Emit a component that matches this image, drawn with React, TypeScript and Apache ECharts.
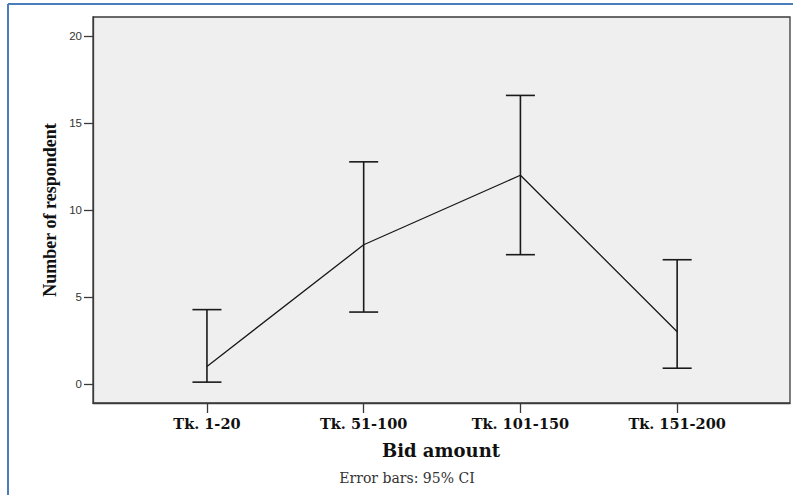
import React, { useEffect, useRef } from "react";
import * as echarts from "echarts";

const categories = ["Tk. 1-20", "Tk. 51-100", "Tk. 101-150", "Tk. 151-200"];
const means = [1, 8, 12, 3];
const ciLower = [0.1, 4.13, 7.43, 0.9];
const ciUpper = [4.27, 12.77, 16.59, 7.14];
const yTicks = [0, 5, 10, 15, 20];

export default function App() {
  const ref = useRef<HTMLDivElement>(null);
  useEffect(() => {
    const chart = echarts.init(ref.current!, null, { renderer: "svg" });
    const idx = categories.map((_, i) => i);
    chart.setOption({
      animation: false,
      backgroundColor: "#ffffff",
      grid: {
        left: 93,
        top: 17,
        right: 3,
        bottom: 92,
        show: true,
        backgroundColor: "#efefef",
        borderColor: "#3a3a3a",
        borderWidth: 1.3,
      },
      xAxis: {
        type: "value",
        min: -0.727,
        max: 3.72,
        axisLine: { show: true, onZero: false, lineStyle: { color: "#3a3a3a", width: 1.3 } },
        splitLine: { show: false },
        axisTick: {
          show: true,
          length: 10,
          customValues: idx,
          lineStyle: { color: "#3a3a3a", width: 1.3 },
        },
        axisLabel: {
          customValues: idx,
          margin: 13,
          formatter: (v: number) => categories[Math.round(v)] ?? "",
          fontFamily: "DejaVu Serif",
          fontWeight: "bold",
          fontSize: 14.5,
          color: "#111",
        },
      },
      yAxis: {
        type: "value",
        min: -1.1,
        max: 21.1,
        axisLine: { show: true, onZero: false, lineStyle: { color: "#3a3a3a", width: 1.3 } },
        splitLine: { show: false },
        axisTick: {
          show: true,
          length: 9,
          customValues: yTicks,
          lineStyle: { color: "#3a3a3a", width: 1.3 },
        },
        axisLabel: {
          customValues: yTicks,
          margin: 11,
          fontFamily: "Liberation Sans",
          fontSize: 11.5,
          color: "#333",
        },
      },
      series: [
        {
          type: "line",
          data: means.map((m, i) => [i, m]),
          symbol: "none",
          lineStyle: { color: "#1a1a1a", width: 1.3 },
          z: 3,
        },
        {
          type: "custom",
          data: idx.map((i) => [i, ciLower[i], ciUpper[i]]),
          renderItem: (params: any, api: any) => {
            const x = api.value(0);
            const lo = api.coord([x, api.value(1)]);
            const hi = api.coord([x, api.value(2)]);
            const hw = 14.5;
            const style = { stroke: "#1a1a1a", lineWidth: 1.6 };
            return {
              type: "group",
              children: [
                { type: "line", shape: { x1: lo[0], y1: lo[1], x2: hi[0], y2: hi[1] }, style },
                { type: "line", shape: { x1: lo[0] - hw, y1: lo[1], x2: lo[0] + hw, y2: lo[1] }, style },
                { type: "line", shape: { x1: hi[0] - hw, y1: hi[1], x2: hi[0] + hw, y2: hi[1] }, style },
              ],
            };
          },
          z: 4,
        },
      ],
      graphic: [
        { type: "line", shape: { x1: 8, y1: 4, x2: 793, y2: 4 }, style: { stroke: "#4a7ebb", lineWidth: 2 } },
        { type: "line", shape: { x1: 8, y1: 4, x2: 8, y2: 495 }, style: { stroke: "#4a7ebb", lineWidth: 2 } },
        {
          type: "text",
          x: 50,
          y: 210,
          rotation: Math.PI / 2,
          style: {
            text: "Number of respondent",
            fontFamily: "Liberation Serif",
            fontWeight: "bold",
            fontSize: 18,
            fill: "#111",
            align: "center",
            verticalAlign: "middle",
          },
        },
        {
          type: "text",
          x: 441,
          y: 450,
          style: {
            text: "Bid amount",
            fontFamily: "DejaVu Serif",
            fontWeight: "bold",
            fontSize: 18,
            fill: "#111",
            align: "center",
            verticalAlign: "middle",
          },
        },
        {
          type: "text",
          x: 407,
          y: 478,
          style: {
            text: "Error bars: 95% CI",
            fontFamily: "DejaVu Serif",
            fontSize: 14,
            fill: "#333",
            align: "center",
            verticalAlign: "middle",
          },
        },
      ],
    });
    return () => chart.dispose();
  }, []);
  return (
    <div
      ref={ref}
      style={{ position: "fixed", left: 0, top: 0, width: 793, height: 495 }}
    />
  );
}
